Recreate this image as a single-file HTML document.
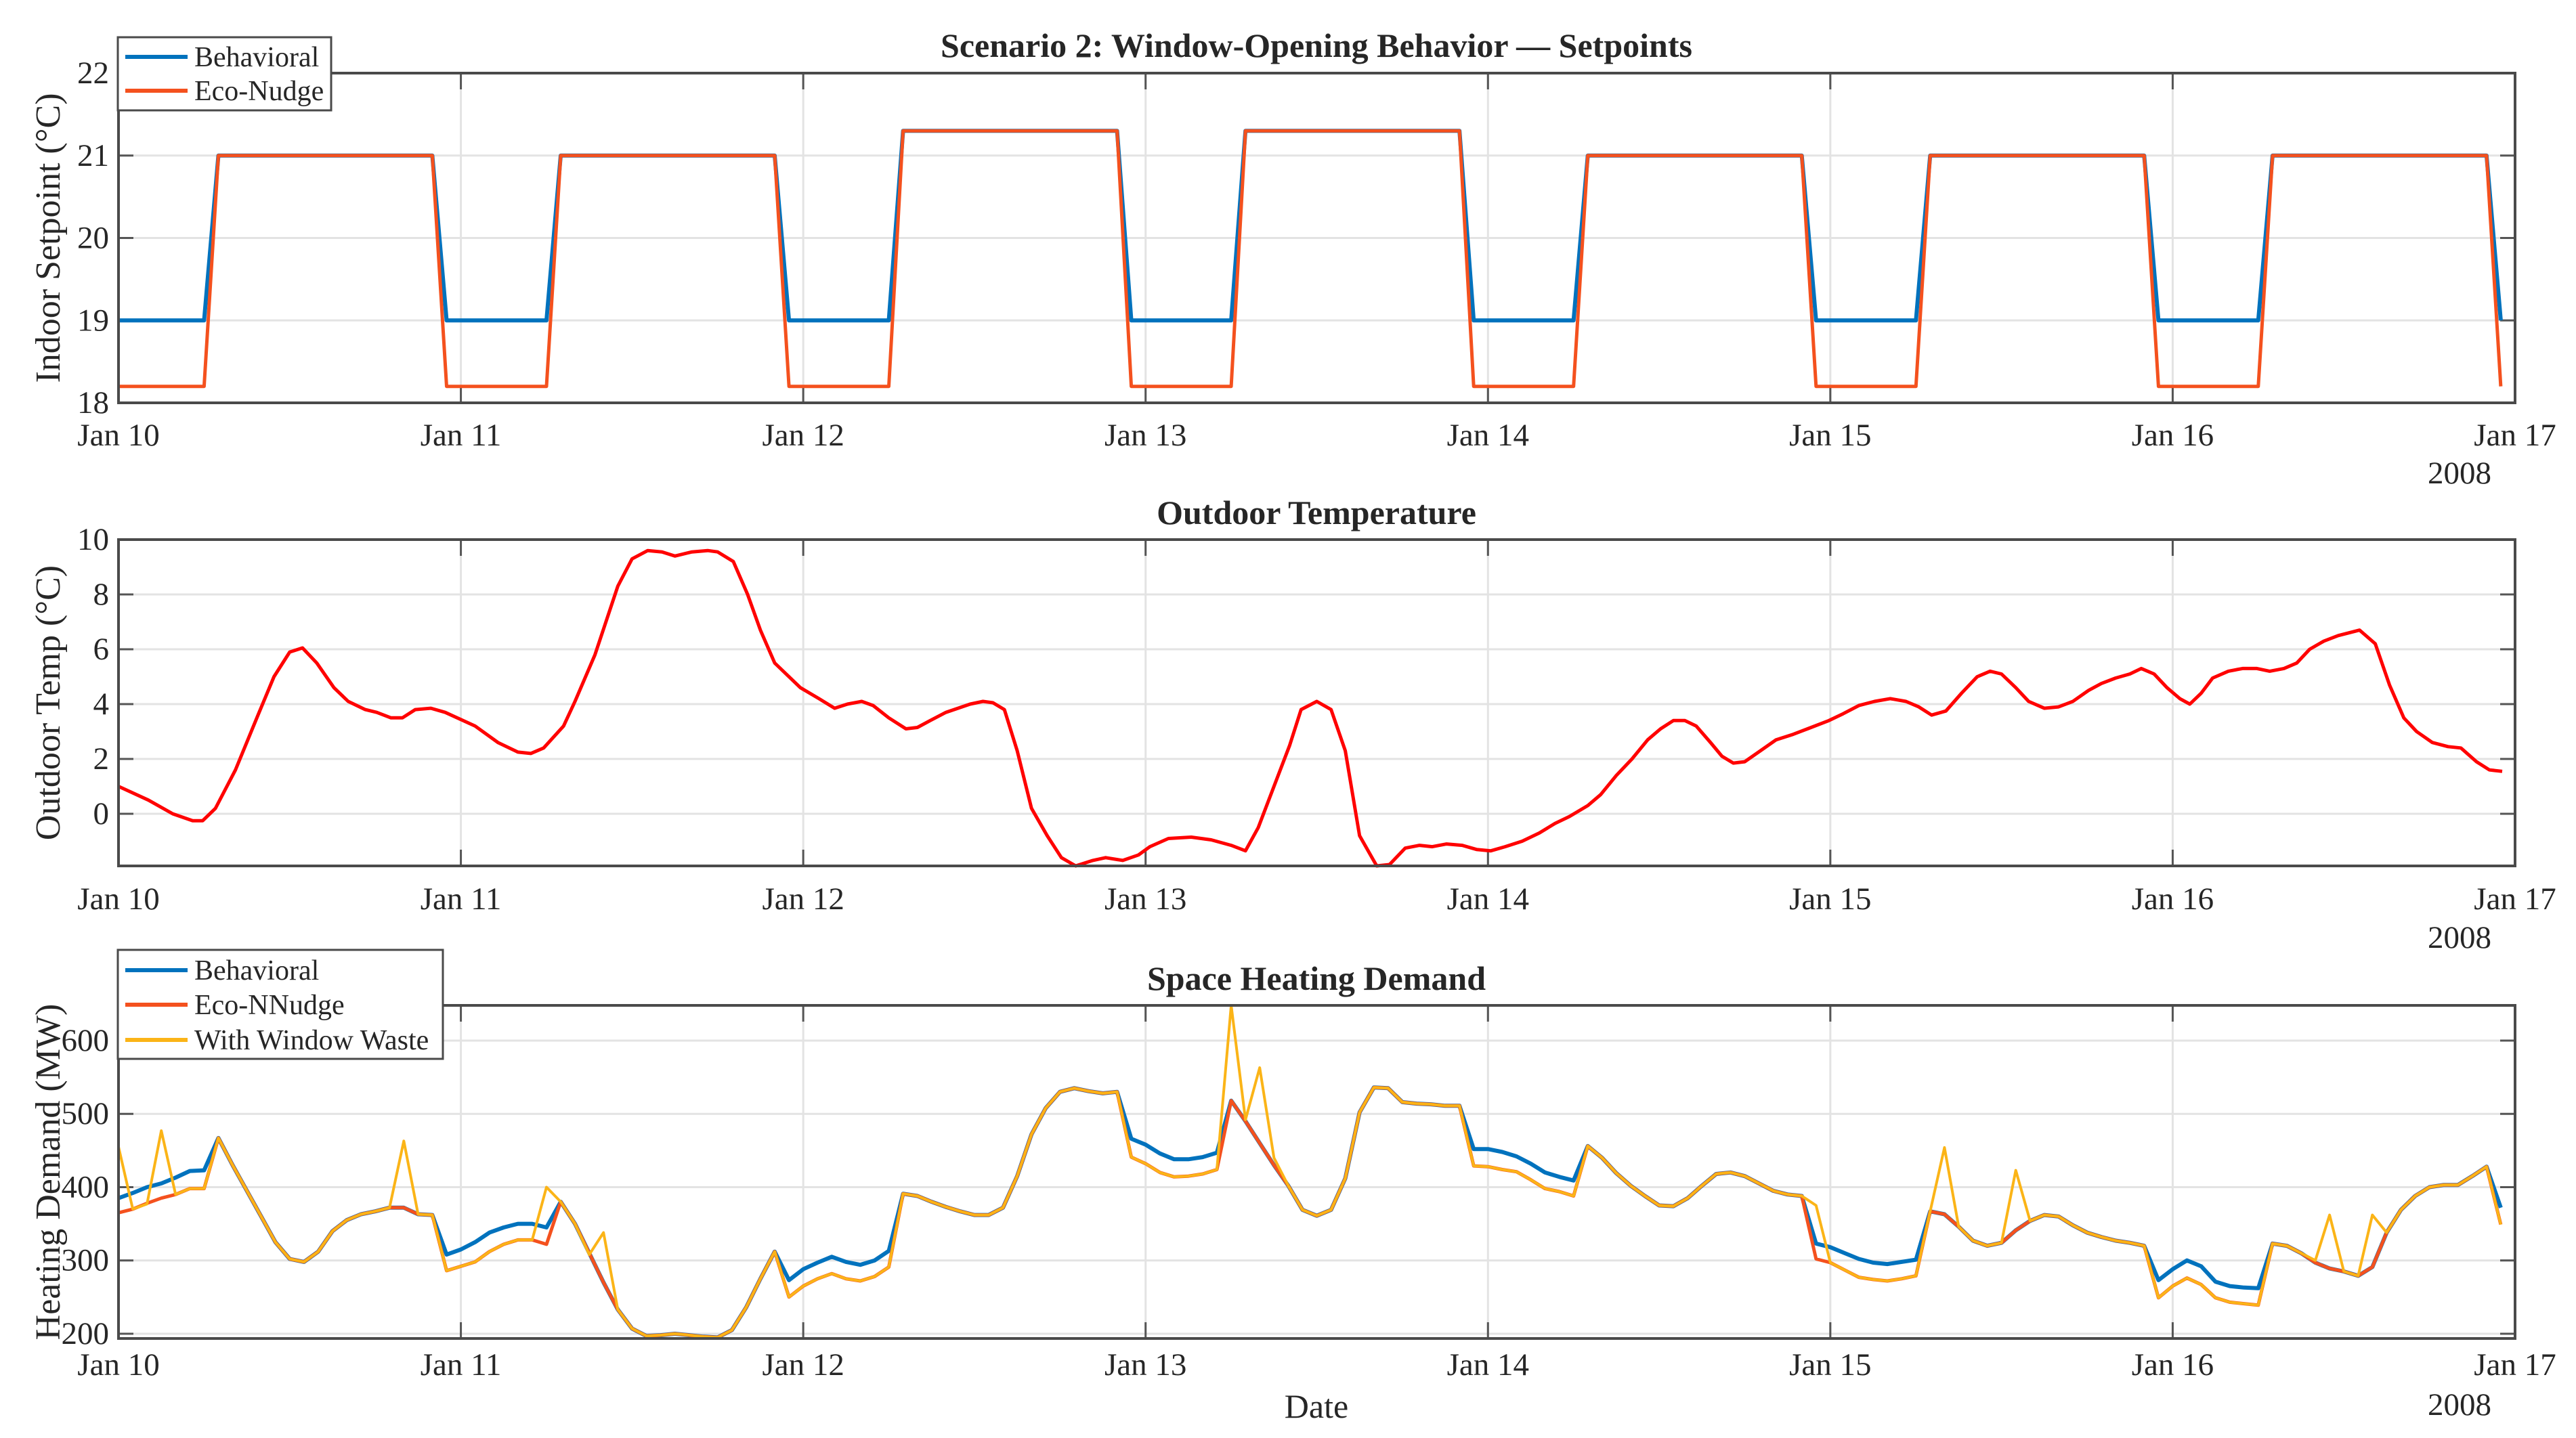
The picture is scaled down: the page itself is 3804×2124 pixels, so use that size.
<!DOCTYPE html>
<html><head><meta charset="utf-8"><style>
html,body{margin:0;padding:0;background:#fff}
svg{display:block}
text{font-family:"Liberation Serif","Times New Roman",serif;fill:#262626}
</style></head><body>
<svg id="fig" width="3804" height="2124" viewBox="0 0 3804 2124" xmlns="http://www.w3.org/2000/svg">
<rect width="3804" height="2124" fill="#fff"/>
</svg>
<script>
// ---- Setpoints (hours from Jan 10 00:00) ----
const spTimes=[0,6,7,22,23,30,31,46,47,54,55,70,71,78,79,94,95,102,103,118,119,126,127,142,143,150,151,166,167];
const spBehavioral=[19,19,21,21,19,19,21,21,19,19,21.3,21.3,19,19,21.3,21.3,19,19,21,21,19,19,21,21,19,19,21,21,19];
const spEco=[18.2,18.2,21,21,18.2,18.2,21,21,18.2,18.2,21.3,21.3,18.2,18.2,21.3,21.3,18.2,18.2,21,21,18.2,18.2,21,21,18.2,18.2,21,21,18.2];
// ---- Outdoor temperature ----
const tempTimes=[0,2.1,3.8,5.2,5.9,6.8,8.2,9.7,10.9,12,12.9,13.9,15.1,16.1,17.3,18.1,19.1,19.9,20.8,21.9,22.9,25,26.6,28,28.9,29.8,31.2,32,33.4,35,36,37.1,38.1,39,40.2,41.3,42,43.1,44.1,45,46,47.8,49.1,50.2,51.1,52.1,52.9,54,55.2,56,56.9,58,59.7,60.6,61.3,62.1,63,64,65.1,66.1,67.1,68.3,69.2,70.4,71.5,72.3,73.6,75.2,76.6,78,79,79.9,81,82.1,82.9,84,85,86,87,88.2,89.1,90.2,91.2,92.1,93.1,94.2,95.2,96.2,97.2,98.4,99.6,100.7,101.7,103,103.9,105,106.1,107.2,108.1,109,109.8,110.6,111.6,112.4,113.2,114,115.1,116.2,117.4,118.4,119.9,120.9,122,123.1,124.2,125.3,126.2,127.1,128.1,129.2,130.3,131.2,132,133,133.9,135,136,137,138.1,139,140,141,141.8,142.7,143.6,144.5,145.2,146,146.8,147.9,148.9,149.9,150.8,151.8,152.7,153.6,154.6,155.6,157.1,158.2,159.2,160.2,161.1,162.2,163.3,164.2,165.3,166.2,167.1];
const tempValues=[1.0,0.5,0.0,-0.25,-0.25,0.2,1.6,3.5,5.0,5.9,6.05,5.5,4.6,4.1,3.8,3.7,3.5,3.5,3.8,3.85,3.7,3.2,2.6,2.25,2.2,2.4,3.2,4.1,5.8,8.3,9.3,9.6,9.55,9.4,9.55,9.6,9.55,9.2,8.0,6.7,5.5,4.6,4.2,3.85,4.0,4.1,3.95,3.5,3.1,3.15,3.4,3.7,4.0,4.1,4.05,3.8,2.3,0.2,-0.8,-1.6,-1.9,-1.7,-1.6,-1.7,-1.5,-1.2,-0.9,-0.85,-0.95,-1.15,-1.35,-0.5,1.0,2.5,3.8,4.1,3.8,2.3,-0.8,-1.9,-1.85,-1.25,-1.15,-1.2,-1.1,-1.15,-1.3,-1.35,-1.2,-1.0,-0.7,-0.35,-0.1,0.3,0.7,1.4,2.0,2.7,3.1,3.4,3.4,3.2,2.6,2.1,1.85,1.9,2.3,2.7,2.9,3.1,3.4,3.65,3.95,4.1,4.2,4.1,3.9,3.6,3.75,4.4,5.0,5.2,5.1,4.6,4.1,3.85,3.9,4.1,4.5,4.75,4.95,5.1,5.3,5.1,4.6,4.2,4.0,4.4,4.95,5.2,5.3,5.3,5.2,5.3,5.5,6.0,6.3,6.5,6.7,6.2,4.7,3.5,3.0,2.6,2.45,2.4,1.9,1.6,1.55];
// ---- Heating demand (hourly, MW) ----
const demandWindow=[455,370,377,477,390,398,398,467,430,395,360,325,302,298,312,340,355,363,367,372,463,363,362,286,292,298,312,322,328,328,400,380,350,308,338,233,207,197,198,200,198,196,195,205,236,275,312,250,265,275,282,275,272,278,291,391,388,380,373,367,362,362,372,415,472,508,530,535,531,528,530,441,432,420,414,415,418,424,648,492,563,440,402,369,361,369,412,502,536,535,516,514,513,511,511,429,428,424,421,410,398,394,388,456,440,419,402,388,375,374,385,402,418,420,415,405,395,390,388,375,297,287,277,274,272,275,279,367,454,346,327,320,324,423,354,362,360,348,338,332,327,324,320,249,265,276,267,249,243,241,239,323,320,310,300,362,285,279,362,338,369,388,400,403,403,415,428,349];
const demandEco=[365,370,378,385,390,398,398,467,430,395,360,325,302,298,312,340,355,363,367,372,372,363,362,286,292,298,312,322,328,328,322,380,350,310,270,233,207,197,198,200,198,196,195,205,236,275,312,250,265,275,282,275,272,278,291,391,388,380,373,367,362,362,372,415,472,508,530,535,531,528,530,441,432,420,414,415,418,424,518,490,460,430,402,369,361,369,412,502,536,535,516,514,513,511,511,429,428,424,421,410,398,394,388,456,440,419,402,388,375,374,385,402,418,420,415,405,395,390,388,302,297,287,277,274,272,275,279,367,363,346,327,320,324,341,354,362,360,348,338,332,327,324,320,249,265,276,267,249,243,241,239,323,320,310,297,289,285,279,291,338,369,388,400,403,403,415,428,349];
const demandBehavioral=[385,392,400,405,413,422,423,467,430,395,360,325,302,298,312,340,355,363,367,372,372,363,362,308,315,325,338,345,350,350,345,380,350,310,270,233,207,197,198,200,198,196,195,205,236,275,312,273,288,297,305,298,294,300,313,391,388,380,373,367,362,362,372,415,472,508,530,535,531,528,530,466,458,446,438,438,441,447,518,490,460,430,402,369,361,369,412,502,536,535,516,514,513,511,511,452,452,448,442,432,420,414,409,456,440,419,402,388,375,374,385,402,418,420,415,405,395,390,388,323,318,310,302,297,295,298,301,367,363,346,327,320,324,341,354,362,360,348,338,332,327,324,320,273,288,300,292,271,265,263,262,323,320,310,297,289,285,279,291,338,369,388,400,403,403,415,428,372];
const dayLabels=['Jan 10','Jan 11','Jan 12','Jan 13','Jan 14','Jan 15','Jan 16','Jan 17'];
const spTicks=[18,19,20,21,22];
const tempTicks=[0,2,4,6,8,10];
const demandTicks=[200,300,400,500,600];

const NS='http://www.w3.org/2000/svg';
const svg=document.getElementById('fig');
const X0=175,X1=3714,HMAX=168;
function xs(h){return X0+(X1-X0)*h/HMAX;}
function mk(tag,attrs,parent){const e=document.createElementNS(NS,tag);for(const k in attrs)e.setAttribute(k,attrs[k]);(parent||svg).appendChild(e);return e;}

function axes(name,top,bot,ymin,ymax,yticks,title,ylabel,titleY,tickY,yearY){
  const g=mk('g',{});
  
  
  const ys=v=>bot-(bot-top)*(v-ymin)/(ymax-ymin);
  for(let d=0;d<=7;d++){const x=xs(d*24);
    const gl=mk('line',{x1:x,x2:x,y1:top,y2:bot,stroke:'#e3e3e3','stroke-width':3},g);
    
    }
  yticks.forEach(v=>{const y=ys(v);
    const gl=mk('line',{x1:X0,x2:X1,y1:y,y2:y,stroke:'#e3e3e3','stroke-width':3},g);
    
    
    mk('line',{x1:X0,x2:X0+22,y1:y,y2:y,stroke:'#555','stroke-width':3},g);
    mk('line',{x1:X1-22,x2:X1,y1:y,y2:y,stroke:'#555','stroke-width':3},g);
    const t=mk('text',{x:X0-14,y:y+15,'text-anchor':'end','font-size':47},g);t.textContent=v;
    
    });
  dayLabels.forEach((lab,d)=>{const x=xs(d*24);
    mk('line',{x1:x,x2:x,y1:bot,y2:bot-24,stroke:'#555','stroke-width':3},g);
    mk('line',{x1:x,x2:x,y1:top,y2:top+24,stroke:'#555','stroke-width':3},g);
    const t=mk('text',{x:x,y:tickY,'text-anchor':'middle','font-size':47},g);t.textContent=lab;
    
    });
  const yr=mk('text',{x:3632,y:yearY,'text-anchor':'middle','font-size':47},g);yr.textContent='2008';
  
  
  const tt=mk('text',{x:1944,y:titleY,'text-anchor':'middle','font-size':50,'font-weight':'bold'},g);tt.textContent=title;
  
  
  const cy=(top+bot)/2;
  const yl=mk('text',{x:0,y:0,'text-anchor':'middle','font-size':52,transform:`translate(88,${cy}) rotate(-90)`},g);yl.textContent=ylabel;
  
  
  return {g,ys,top,bot};
}
function box(a){const r=mk('rect',{x:X0,y:a.top,width:X1-X0,height:a.bot-a.top,fill:'none',stroke:'#4a4a4a','stroke-width':4},a.g);
  
  }
function series(a,times,vals,color,w,name){
  const d=vals.map((v,i)=>(i?'L':'M')+xs(times[i]).toFixed(1)+','+a.ys(v).toFixed(1)).join('');
  const p=mk('path',{d:d,fill:'none',stroke:color,'stroke-width':w,'stroke-linejoin':'round'},a.g);
  
  
}
function legend(x,y,w,h,entries,name){
  const g=mk('g',{});
  
  
  mk('rect',{x:x,y:y,width:w,height:h,fill:'#fff',stroke:'#4a4a4a','stroke-width':3},g);
  entries.forEach(e=>{
    const eg=mk('g',{},g);
    
    
    mk('line',{x1:x+11,x2:x+103,y1:e[2],y2:e[2],stroke:e[1],'stroke-width':6},eg);
    const t=mk('text',{x:x+113,y:e[2]+14,'font-size':42},eg);t.textContent=e[0];
  });
}

const hours=demandWindow.map((_,i)=>i);
const a1=axes('setpoint-chart',108,595,18,22,spTicks,'Scenario 2: Window-Opening Behavior \u2014 Setpoints','Indoor Setpoint (\u00B0C)',84,658,714);
series(a1,spTimes,spBehavioral,'#0072BD',6,'behavioral-setpoint-line');
series(a1,spTimes,spEco,'#F4511E',5,'eco-nudge-setpoint-line');
box(a1);
legend(174,55,315,108,[['Behavioral','#0072BD',84],['Eco-Nudge','#F4511E',134]],'setpoint-legend');
const a2=axes('outdoor-temp-chart',797,1279,-1.9,10,tempTicks,'Outdoor Temperature','Outdoor Temp (\u00B0C)',774,1343,1400);
series(a2,tempTimes,tempValues,'#FF0000',5,'outdoor-temp-line');
box(a2);
const a3=axes('heating-demand-chart',1485,1977,193.5,648,demandTicks,'Space Heating Demand','Heating Demand (MW)',1462,2031,2090);
series(a3,hours,demandBehavioral,'#0072BD',6,'behavioral-demand-line');
series(a3,hours,demandEco,'#F4511E',5,'eco-nudge-demand-line');
series(a3,hours,demandWindow,'#FBB417',4,'window-waste-demand-line');
box(a3);
legend(174,1403,480,161,[['Behavioral','#0072BD',1433],['Eco-NNudge','#F4511E',1484],['With Window Waste','#FBB417',1536]],'demand-legend');
const xl=mk('text',{x:1944,y:2094,'text-anchor':'middle','font-size':50});xl.textContent='Date';


</script>
</body></html>
